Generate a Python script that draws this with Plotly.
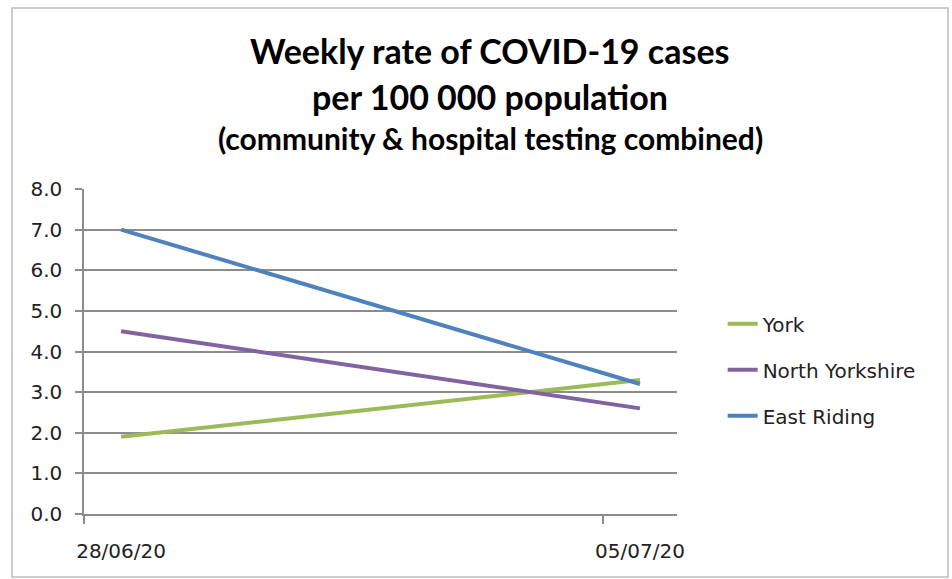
import plotly.graph_objects as go

# Weekly COVID-19 case rates per 100 000 population
dates = ["2020-06-28", "2020-07-05"]
date_labels = ["28/06/20", "05/07/20"]
york = [1.9, 3.3]
north_yorkshire = [4.5, 2.6]
east_riding = [7.0, 3.2]
y_ticks = [0, 1, 2, 3, 4, 5, 6, 7, 8]

series = [
    ("York", york, "#9BBB59"),
    ("North Yorkshire", north_yorkshire, "#8064A2"),
    ("East Riding", east_riding, "#4F81BD"),
]

W, H = 952, 579
L, R, T, B = 84, 275, 189, 65

fig = go.Figure()
for name, vals, color in series:
    fig.add_trace(go.Scatter(
        x=dates, y=vals, name=name, mode="lines", legendgroup=name,
        line=dict(color=color, width=4),
    ))

tick_font = dict(family="DejaVu Sans, Verdana, sans-serif", size=20, color="#222222")

fig.update_layout(
    width=W, height=H,
    margin=dict(l=L, r=R, t=T, b=B),
    paper_bgcolor="white", plot_bgcolor="white",
    showlegend=True,
    legend=dict(
        x=1.077, y=0.444, xanchor="left", yanchor="middle",
        font=dict(family="DejaVu Sans, Verdana, sans-serif", size=20, color="#222222"),
        tracegroupgap=17, itemwidth=30,
        bgcolor="rgba(0,0,0,0)",
    ),
    xaxis=dict(
        type="date",
        range=["2020-06-27 12:00", "2020-07-05 12:00"],
        tickmode="array", tickvals=dates, ticktext=date_labels,
        ticks="", tickfont=tick_font, showgrid=False,
        showline=True, linecolor="#8c8c8c", linewidth=1.5,
        zeroline=False,
        minor=dict(
            tickmode="array",
            tickvals=["2020-06-27 12:00", "2020-07-04 12:00"],
            ticks="outside", ticklen=8, tickwidth=1.5, tickcolor="#8c8c8c",
            showgrid=False,
        ),
        ticklabelstandoff=18,
    ),
    yaxis=dict(
        range=[0, 8], tickmode="array", tickvals=y_ticks,
        ticktext=[f"{v:.1f}" for v in y_ticks],
        tickfont=tick_font,
        ticks="outside", ticklen=7, tickwidth=1.5, tickcolor="#8c8c8c",
        showgrid=True, gridcolor="#8c8c8c", gridwidth=1.5,
        showline=True, linecolor="#8c8c8c", linewidth=1.5,
        zeroline=False, ticklabelstandoff=9,
    ),
)

title_font = "Lato, Open Sans, sans-serif"
title_lines = [
    ("<b>Weekly rate of COVID-19 cases</b>", 34, 1.425),
    ("<b>per 100 000 population</b>", 34, 1.285),
    ("<b>(community &amp; hospital testing combined)</b>", 30, 1.157),
]
for text, size, ypos in title_lines:
    fig.add_annotation(
        text=text, xref="paper", yref="paper", x=0.685, y=ypos,
        xanchor="center", yanchor="middle", showarrow=False,
        font=dict(family=title_font, size=size, color="#000000"),
    )

# chart frame
plot_w = W - L - R
plot_h = H - T - B
fig.add_shape(
    type="rect", xref="paper", yref="paper",
    x0=(12 - L) / plot_w, x1=(948 - L) / plot_w,
    y0=(H - B - 577) / plot_h, y1=(H - B - 8) / plot_h,
    line=dict(color="#bdbdbd", width=1.5), layer="below",
)

fig.write_html("out.html")
